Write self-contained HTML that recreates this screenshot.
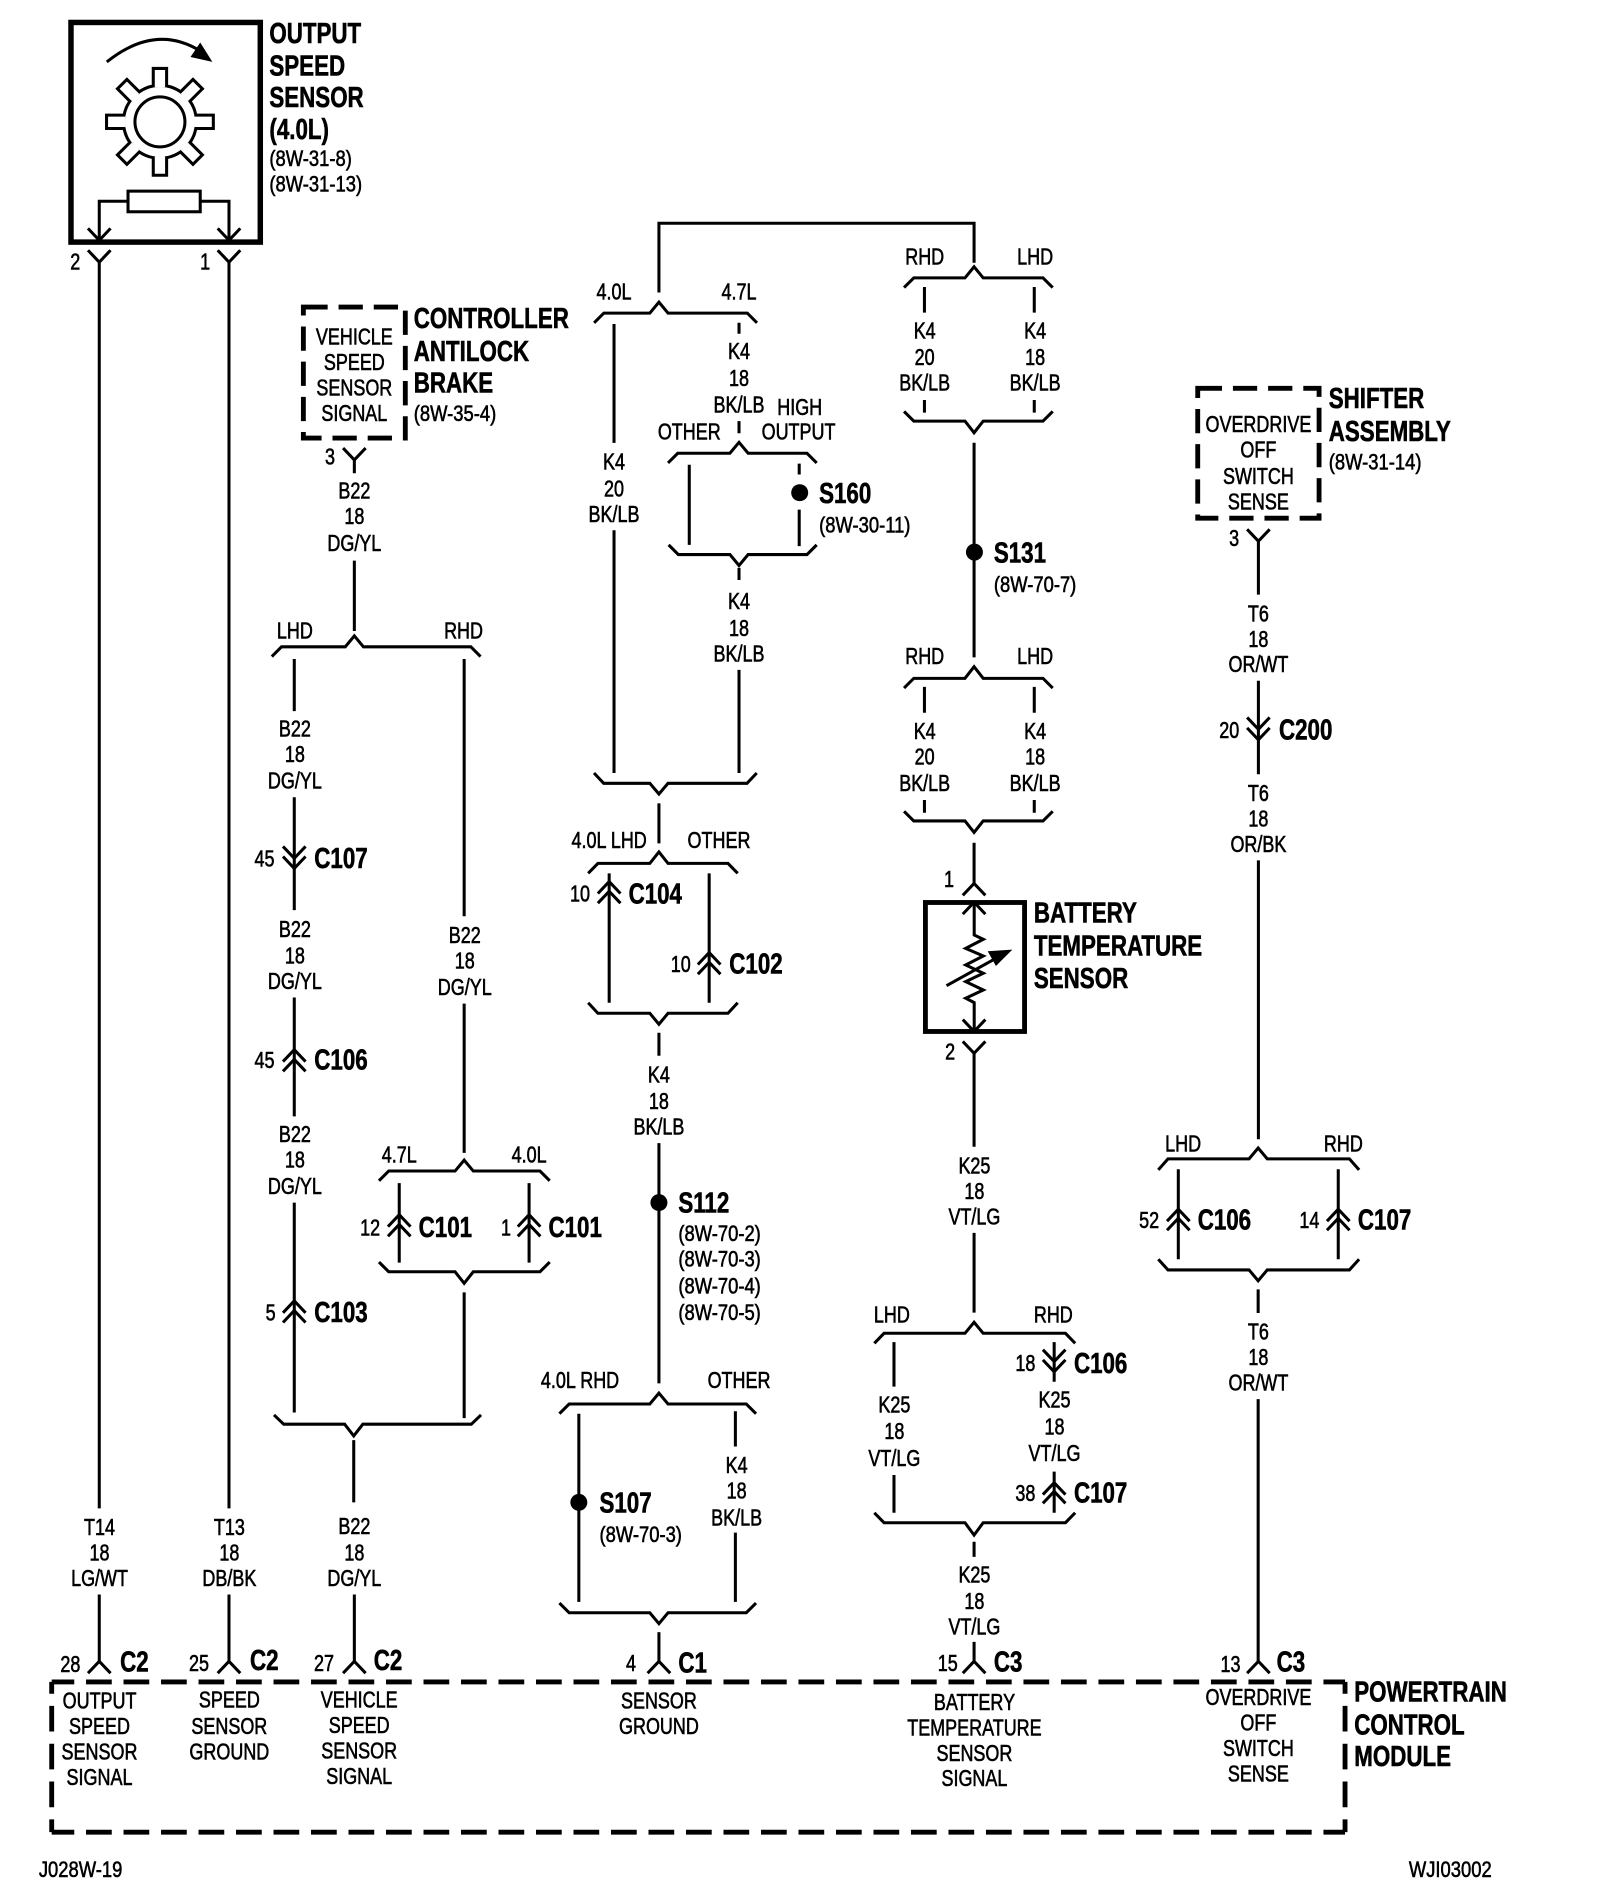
<!DOCTYPE html>
<html><head><meta charset="utf-8"><style>
html,body{margin:0;padding:0;background:#fff}
svg{display:block}
text{font-family:"Liberation Sans",sans-serif;fill:#000;dominant-baseline:central;transform-box:fill-box;stroke:#000}
.c text{font-size:19px;text-anchor:middle;transform-origin:center;transform:scaleX(.78);stroke-width:.5}
.b text{font-size:23.6px;font-weight:bold;text-anchor:start;transform-origin:0 0;transform:scaleX(.78);stroke-width:.5}
.s text{font-size:18.5px;text-anchor:start;transform-origin:0 0;transform:scaleX(.82);stroke-width:.5}
.w{fill:none;stroke:#000;stroke-width:2.5}
.w path,.w use{fill:none}
.dash{fill:none;stroke:#000;stroke-width:4}
</style></head><body>
<svg width="1600" height="1904" viewBox="0 0 1318.5 1569" xmlns="http://www.w3.org/2000/svg">
<defs>
<path id="u" d="M-9.3 9.8L0 0L9.3 9.8"/>
<path id="d" d="M-9.3 -9.8L0 0L9.3 -9.8"/>
<path id="t" d="M-5.5 -28.5V-44H5.5V-28.5"/>
</defs>
<rect width="1318.5" height="1569" fill="#fff"/>

<!-- output speed sensor -->
<rect x="58.5" y="18.5" width="156" height="181" fill="none" stroke="#000" stroke-width="4.5"/>
<g class="w">
<path d="M88 51Q128 19 165 42"/>
<path d="M175 51L157 47L165 35Z" fill="#000" stroke="none" style="fill:#000"/>
<circle cx="131.8" cy="100.4" r="30"/>
<circle cx="131.8" cy="100.4" r="20.6"/>
<g transform="translate(131.8 100.4)" style="fill:#fff">
<use href="#t" style="fill:#fff"/><use href="#t" transform="rotate(45)" style="fill:#fff"/><use href="#t" transform="rotate(90)" style="fill:#fff"/><use href="#t" transform="rotate(135)" style="fill:#fff"/><use href="#t" transform="rotate(180)" style="fill:#fff"/><use href="#t" transform="rotate(225)" style="fill:#fff"/><use href="#t" transform="rotate(270)" style="fill:#fff"/><use href="#t" transform="rotate(315)" style="fill:#fff"/>
</g>
<rect x="105.5" y="157.5" width="59.5" height="17"/>
<path d="M105.5 165.8H81.8V198M165 165.8H188.7V198"/>
<use href="#d" x="81.8" y="198"/><use href="#d" x="188.7" y="198"/>
<use href="#d" x="81.8" y="216"/><use href="#d" x="188.7" y="216"/>
<path d="M81.8 216V1243M81.8 1314V1369M188.7 216V1243M188.7 1314V1369"/>
<use href="#u" x="81.8" y="1369"/><use href="#u" x="188.7" y="1369"/>

<!-- vehicle speed / B22 -->
<use href="#d" x="292" y="379"/>
<path d="M292 379V390M292 462V520"/>
<path d="M224 541l8 -8H284.500l7.500 -9l7.500 9H388l8 8"/>
<path d="M242.500 543V586M242.500 657V750"/>
<use href="#d" x="242.500" y="707.300"/><use href="#d" x="242.500" y="715.600"/>
<path d="M242.500 822V920"/>
<use href="#u" x="242.500" y="865"/><use href="#u" x="242.500" y="873"/>
<path d="M242.500 991V1164"/>
<use href="#u" x="242.500" y="1072"/><use href="#u" x="242.500" y="1080"/>
<path d="M382.500 543V755M382.500 827V950"/>
<path d="M312.300 973l8 -8H375l7.500 -9l7.500 9H445l8 8"/>
<path d="M329 975V1040.500M436 975V1040.500"/>
<use href="#u" x="329" y="1001"/><use href="#u" x="329" y="1009"/>
<use href="#u" x="436" y="1001"/><use href="#u" x="436" y="1009"/>
<path d="M312.300 1040l8 8H375l7.500 9.500l7.500 -9.500H445l8 -8"/>
<path d="M382.500 1065V1168.600"/>
<path d="M225.800 1166l8 7.600H284l7.500 9.700l7.500 -9.700H388.400l8 -7.600"/>
<path d="M291.500 1186.700V1238M292 1314V1369"/>
<use href="#u" x="292" y="1369"/>

<!-- middle column -->
<path d="M543 241V184H802.700V216.500"/>
<path d="M489.600 266l8 -8H535.500l7.500 -9l7.500 9H615.800l8 8"/>
<path d="M506 267V365M506 437V637"/>
<path d="M609 266V275M609 347V357"/>
<path d="M550.500 381.500l8 -8H601.500l7.500 -9l7.500 9H665l8 8"/>
<path d="M568 383V449M658.600 382V391M658.600 420V450"/>
<path d="M551 449l8 8H601.500l7.500 9l7.500 -9H665l8 -8"/>
<path d="M609 468V478M609 552V637"/>
<path d="M489.500 637l8 8.500H535.500l7.500 8.800l7.500 -8.800H615.600l8 -8.500"/>
<path d="M543 662V695"/>
<path d="M484.700 719.700l8 -8.200H535.500l7.500 -9.500l7.500 9.500H599.900l8 8.200"/>
<path d="M502 719.700V826.300M584.400 719.700V826.300"/>
<use href="#u" x="502" y="726.500"/><use href="#u" x="502" y="734.500"/>
<use href="#u" x="584.400" y="785"/><use href="#u" x="584.400" y="793"/>
<path d="M484.700 826.300l8 8.700H535.500l7.500 9l7.500 -9H599.900l8 -8.700"/>
<path d="M543 851V870M543 942V1140"/>
<path d="M461 1165l8 -8H535.500l7.500 -9l7.500 9H615l8 8"/>
<path d="M477 1165V1320M606 1163V1192M606 1263V1320"/>
<path d="M461 1321l8 8H535.500l7.500 9l7.500 -9H615l8 -8"/>
<path d="M543 1345V1369"/>
<use href="#u" x="543" y="1369"/>

<!-- right-middle column -->
<path d="M745 237l8 -8H795.200l7.500 -9.200l7.500 9.200H859.500l8 8"/>
<path d="M761.800 236.500V257.600M852.300 236.500V257.600M761.800 329.600V340M852.300 329.600V340"/>
<path d="M745 339l8 8H795.200l7.500 9.600l7.500 -9.600H859.500l8 -8"/>
<path d="M802.700 364.800V541.700"/>
<path d="M745 567l8 -8H795.200l7.500 -9.600l7.500 9.600H859.500l8 8"/>
<path d="M761.800 566V587.300M852.300 566V587.300M761.800 659.200V669.700M852.300 659.200V669.700"/>
<path d="M745 668.600l8 7.900H795.200l7.500 9.500l7.500 -9.500H859.500l8 -7.900"/>
<path d="M802.700 694.500V728"/>
<use href="#u" x="802.700" y="728"/>
<use href="#u" x="802.700" y="743.500"/>
<path d="M802.800 744V770.500L810.300 774L795.800 781.500L810.300 787.800L795.800 795.200L810.300 802L795.800 808.900L810.300 815.800L795.800 822.600L802.800 826.200V849"/>
<path d="M780 812.300L822 789"/>
<path d="M831 784L816 785L821 794Z" style="fill:#000"/>
<use href="#d" x="802.700" y="850"/>
<use href="#d" x="802.700" y="868"/>
<path d="M802.700 868V945M802.700 1016V1081.700"/>
<path d="M720.500 1107l8 -8.300H795.200l7.500 -9.100l7.500 9.100H878l8 8.300"/>
<path d="M736.700 1106V1142.700M736.700 1215.500V1246.600M868.700 1106V1138.600M868.700 1212.700V1246.600"/>
<use href="#d" x="868.700" y="1122"/><use href="#d" x="868.700" y="1130.400"/>
<use href="#u" x="868.700" y="1221.800"/><use href="#u" x="868.700" y="1229"/>
<path d="M720.500 1246.600l8 8.200H795.200l7.500 10.200l7.500 -10.200H878l8 -8.200"/>
<path d="M802.700 1270.500V1283M802.700 1353V1369"/>
<use href="#u" x="802.700" y="1369"/>

<!-- right column -->
<use href="#d" x="1037" y="446"/>
<path d="M1037 446V490M1037 561V638M1037 709V938.800"/>
<use href="#d" x="1037" y="601"/><use href="#d" x="1037" y="609.600"/>
<path d="M954.500 964l8 -9H1029.300l7.500 -9l7.500 9H1112l8 9"/>
<path d="M971 963.500V1037.700M1102.800 963.500V1037.700"/>
<use href="#u" x="971" y="996.500"/><use href="#u" x="971" y="1004"/>
<use href="#u" x="1102.800" y="996.500"/><use href="#u" x="1102.800" y="1004"/>
<path d="M954.500 1037.700l8 8.800H1029.300l7.500 8.900l7.500 -8.900H1112l8 -8.800"/>
<path d="M1036.800 1062.500V1082M1036.800 1153V1369"/>
<use href="#u" x="1037" y="1369"/>
</g>
<rect x="762.600" y="743.700" width="81.700" height="106.300" fill="none" stroke="#000" stroke-width="4"/>

<!-- dots -->
<circle cx="659" cy="406" r="7"/><circle cx="803" cy="455" r="7"/><circle cx="543" cy="991" r="7"/><circle cx="477" cy="1238" r="7"/>

<!-- dashed boxes -->
<g class="dash">
<rect x="250" y="253" width="84" height="108" stroke-dasharray="20 9"/>
<rect x="987" y="320" width="100" height="107" stroke-dasharray="20 9"/>
<path d="M42.600 1386H1108.400" stroke-dasharray="21.200 9.700" stroke-dashoffset="2.600"/>
<path d="M42.600 1509.800H1108.400" stroke-dasharray="21.200 9.700" stroke-dashoffset="2.600"/>
<path d="M42.600 1386V1509.800" stroke-dasharray="21.200 10" stroke-dashoffset="11.500"/>
<path d="M1108.400 1386V1509.800" stroke-dasharray="21.200 10" stroke-dashoffset="11.500"/>
</g>

<!-- bold headings -->
<g class="b" transform="translate(0 1)">
<text x="222" y="27">OUTPUT</text><text x="222" y="54">SPEED</text><text x="222" y="80">SENSOR</text><text x="222" y="106">(4.0L)</text>
<text x="341" y="262">CONTROLLER</text><text x="341" y="289">ANTILOCK</text><text x="341" y="315">BRAKE</text>
<text x="1095" y="328">SHIFTER</text><text x="1095" y="355">ASSEMBLY</text>
<text x="852" y="752">BATTERY</text><text x="852" y="779">TEMPERATURE</text><text x="852" y="806">SENSOR</text>
<text x="1116" y="1394">POWERTRAIN</text><text x="1116" y="1421">CONTROL</text><text x="1116" y="1447">MODULE</text>
<text x="259" y="707">C107</text><text x="259" y="873">C106</text><text x="259" y="1081">C103</text>
<text x="345" y="1011">C101</text><text x="452" y="1011">C101</text>
<text x="518" y="736">C104</text><text x="601" y="794">C102</text>
<text x="675" y="406">S160</text><text x="819" y="455">S131</text><text x="559" y="991">S112</text><text x="494" y="1238">S107</text>
<text x="885" y="1123">C106</text><text x="885" y="1230">C107</text>
<text x="1054" y="601">C200</text><text x="987" y="1005">C106</text><text x="1119" y="1005">C107</text>
<text x="99" y="1369">C2</text><text x="206" y="1368">C2</text><text x="308" y="1368">C2</text>
<text x="559" y="1370">C1</text><text x="819" y="1369">C3</text><text x="1052" y="1369">C3</text>
</g>

<!-- page refs -->
<g class="s" transform="translate(0 1)">
<text x="222" y="130">(8W-31-8)</text><text x="222" y="151">(8W-31-13)</text>
<text x="341" y="340">(8W-35-4)</text>
<text x="675" y="432">(8W-30-11)</text>
<text x="819" y="481">(8W-70-7)</text>
<text x="1095" y="380">(8W-31-14)</text>
<text x="559" y="1016">(8W-70-2)</text><text x="559" y="1037">(8W-70-3)</text><text x="559" y="1059">(8W-70-4)</text><text x="559" y="1081">(8W-70-5)</text>
<text x="494" y="1264">(8W-70-3)</text>
<text x="32" y="1540">J028W-19</text><text x="1161" y="1540">WJI03002</text>
</g>

<!-- regular labels -->
<g class="c" transform="translate(0 1)">
<text x="62" y="215">2</text><text x="169" y="215">1</text><text x="272" y="376">3</text><text x="782" y="724">1</text><text x="783" y="866">2</text><text x="1017" y="443">3</text>
<text x="292" y="277">VEHICLE</text><text x="292" y="298">SPEED</text><text x="292" y="319">SENSOR</text><text x="292" y="340">SIGNAL</text>
<text x="292" y="404">B22</text><text x="292" y="425">18</text><text x="292" y="447">DG/YL</text>
<text x="243" y="519">LHD</text><text x="382" y="519">RHD</text>
<text x="243" y="600">B22</text><text x="243" y="621">18</text><text x="243" y="643">DG/YL</text>
<text x="218" y="707">45</text>
<text x="243" y="765">B22</text><text x="243" y="787">18</text><text x="243" y="808">DG/YL</text>
<text x="218" y="873">45</text>
<text x="243" y="934">B22</text><text x="243" y="955">18</text><text x="243" y="977">DG/YL</text>
<text x="223" y="1081">5</text>
<text x="383" y="770">B22</text><text x="383" y="791">18</text><text x="383" y="813">DG/YL</text>
<text x="329" y="951">4.7L</text><text x="436" y="951">4.0L</text>
<text x="305" y="1011">12</text><text x="417" y="1011">1</text>
<text x="82" y="1258">T14</text><text x="82" y="1279">18</text><text x="82" y="1300">LG/WT</text>
<text x="189" y="1258">T13</text><text x="189" y="1279">18</text><text x="189" y="1300">DB/BK</text>
<text x="292" y="1257">B22</text><text x="292" y="1279">18</text><text x="292" y="1300">DG/YL</text>
<text x="58" y="1371">28</text><text x="164" y="1370">25</text><text x="267" y="1370">27</text><text x="520" y="1370">4</text><text x="781" y="1370">15</text><text x="1014" y="1371">13</text>
<text x="82" y="1401">OUTPUT</text><text x="82" y="1422">SPEED</text><text x="82" y="1443">SENSOR</text><text x="82" y="1464">SIGNAL</text>
<text x="189" y="1400">SPEED</text><text x="189" y="1422">SENSOR</text><text x="189" y="1443">GROUND</text>
<text x="296" y="1400">VEHICLE</text><text x="296" y="1421">SPEED</text><text x="296" y="1442">SENSOR</text><text x="296" y="1463">SIGNAL</text>
<text x="543" y="1401">SENSOR</text><text x="543" y="1422">GROUND</text>
<text x="803" y="1402">BATTERY</text><text x="803" y="1423">TEMPERATURE</text><text x="803" y="1444">SENSOR</text><text x="803" y="1465">SIGNAL</text>
<text x="1037" y="1398">OVERDRIVE</text><text x="1037" y="1419">OFF</text><text x="1037" y="1440">SWITCH</text><text x="1037" y="1461">SENSE</text>
<text x="506" y="240">4.0L</text><text x="609" y="240">4.7L</text>
<text x="506" y="380">K4</text><text x="506" y="402">20</text><text x="506" y="423">BK/LB</text>
<text x="609" y="289">K4</text><text x="609" y="311">18</text><text x="609" y="333">BK/LB</text>
<text x="568" y="355">OTHER</text><text x="659" y="335">HIGH</text><text x="658" y="355">OUTPUT</text>
<text x="609" y="495">K4</text><text x="609" y="517">18</text><text x="609" y="538">BK/LB</text>
<text x="502" y="692">4.0L LHD</text><text x="592.500" y="692">OTHER</text>
<text x="478" y="736">10</text><text x="561" y="794">10</text>
<text x="543" y="885">K4</text><text x="543" y="907">18</text><text x="543" y="928">BK/LB</text>
<text x="478" y="1137">4.0L RHD</text><text x="609" y="1137">OTHER</text>
<text x="607" y="1207">K4</text><text x="607" y="1228">18</text><text x="607" y="1250">BK/LB</text>
<text x="762" y="211">RHD</text><text x="853" y="211">LHD</text>
<text x="762" y="272">K4</text><text x="762" y="294">20</text><text x="762" y="315">BK/LB</text>
<text x="853" y="272">K4</text><text x="853" y="294">18</text><text x="853" y="315">BK/LB</text>
<text x="762" y="540">RHD</text><text x="853" y="540">LHD</text>
<text x="762" y="602">K4</text><text x="762" y="623">20</text><text x="762" y="645">BK/LB</text>
<text x="853" y="602">K4</text><text x="853" y="623">18</text><text x="853" y="645">BK/LB</text>
<text x="803" y="960">K25</text><text x="803" y="981">18</text><text x="803" y="1002">VT/LG</text>
<text x="735" y="1083">LHD</text><text x="868" y="1083">RHD</text>
<text x="737" y="1157">K25</text><text x="737" y="1179">18</text><text x="737" y="1201">VT/LG</text>
<text x="845" y="1123">18</text><text x="845" y="1230">38</text>
<text x="869" y="1153">K25</text><text x="869" y="1175">18</text><text x="869" y="1197">VT/LG</text>
<text x="803" y="1297">K25</text><text x="803" y="1319">18</text><text x="803" y="1340">VT/LG</text>
<text x="1037" y="349">OVERDRIVE</text><text x="1037" y="370">OFF</text><text x="1037" y="392">SWITCH</text><text x="1037" y="413">SENSE</text>
<text x="1037" y="505">T6</text><text x="1037" y="526">18</text><text x="1037" y="547">OR/WT</text>
<text x="1013" y="601">20</text>
<text x="1037" y="653">T6</text><text x="1037" y="674">18</text><text x="1037" y="695">OR/BK</text>
<text x="975" y="942">LHD</text><text x="1107" y="942">RHD</text>
<text x="947" y="1005">52</text><text x="1079" y="1005">14</text>
<text x="1037" y="1097">T6</text><text x="1037" y="1118">18</text><text x="1037" y="1139">OR/WT</text>
</g>
</svg>
</body></html>
